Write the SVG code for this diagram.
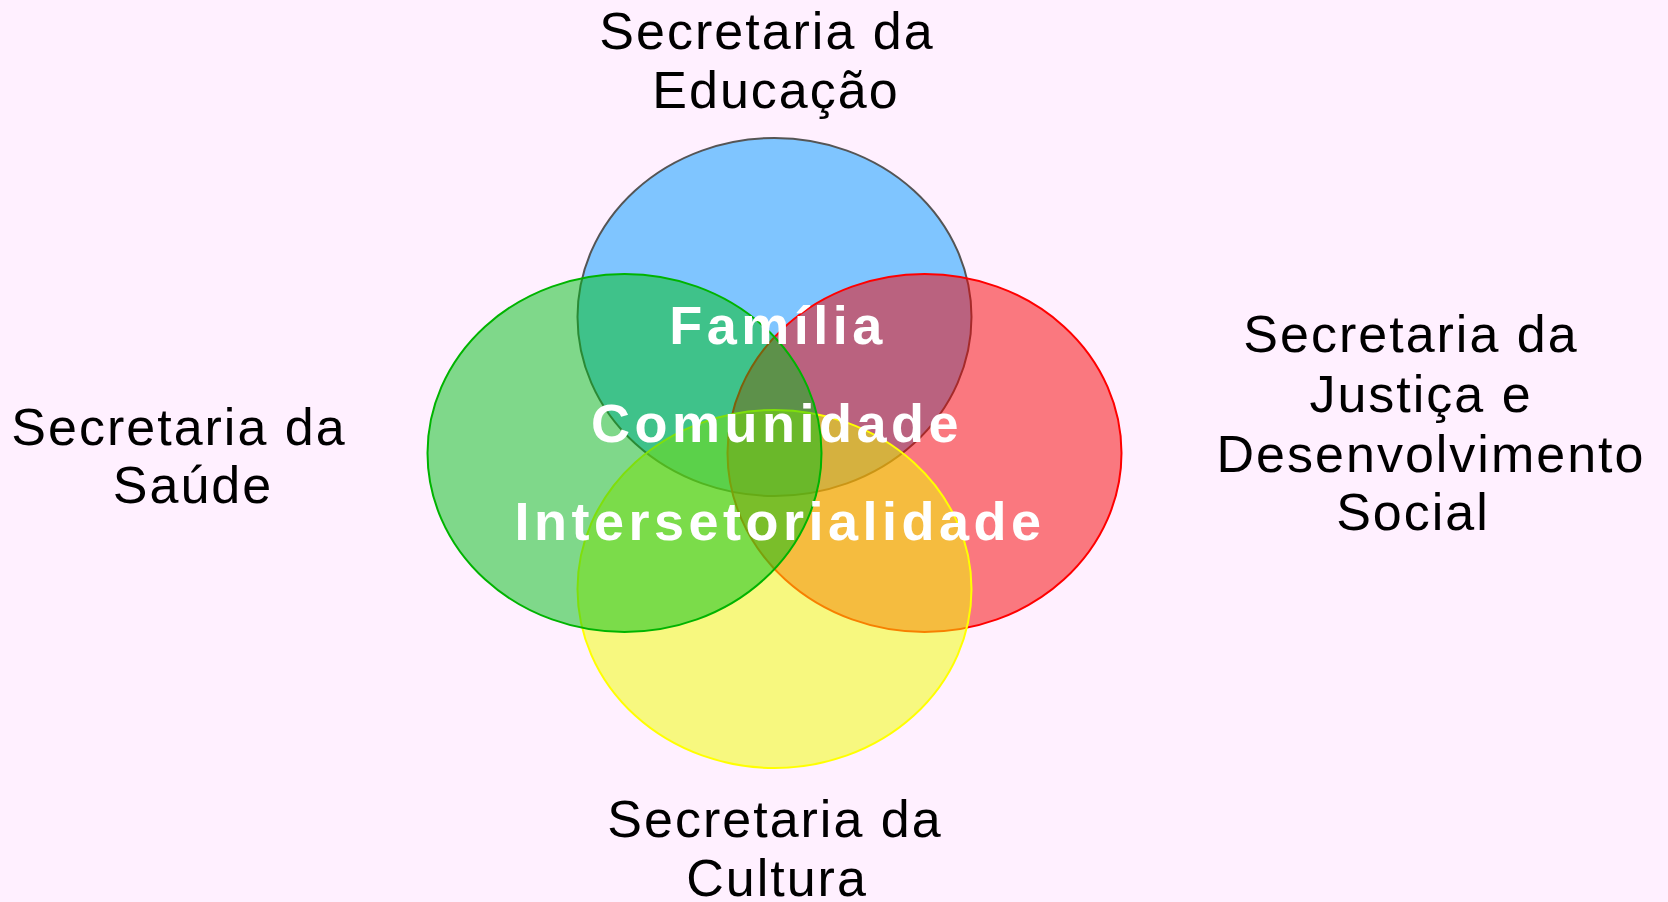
<svg xmlns="http://www.w3.org/2000/svg" width="1668" height="902" viewBox="0 0 1668 902">
  <style>
    .circle { fill-opacity: 0.5; stroke-width: 2; }
    .label { font-family: "Liberation Sans", Arial, sans-serif; font-size: 52px; letter-spacing: 2px; fill: #000000; text-anchor: middle; }
    .core { font-family: "Liberation Sans", Arial, sans-serif; font-size: 54px; font-weight: bold; letter-spacing: 4.5px; fill: #ffffff; text-anchor: middle; }
  </style>
  <rect x="0" y="0" width="1668" height="902" fill="#fff0ff"/>
  <g id="educacao">
    <ellipse class="circle" cx="774.5" cy="317" rx="197" ry="179" fill="#0099ff" stroke="#555555"/>
    <text class="label" x="767" y="49">Secretaria da</text>
    <text class="label" x="776" y="108">Educação</text>
  </g>
  <g id="justica">
    <ellipse class="circle" cx="924.5" cy="453" rx="197" ry="179" fill="#f60000" stroke="#ff0000"/>
    <text class="label" x="1411" y="352">Secretaria da</text>
    <text class="label" x="1421" y="412">Justiça e</text>
    <text class="label" x="1431" y="472">Desenvolvimento</text>
    <text class="label" x="1413" y="530">Social</text>
  </g>
  <g id="cultura">
    <ellipse class="circle" cx="774.5" cy="589" rx="197" ry="179" fill="#f0ff00" stroke="#ffff00"/>
    <text class="label" x="775" y="837">Secretaria da</text>
    <text class="label" x="777" y="896">Cultura</text>
  </g>
  <g id="saude">
    <ellipse class="circle" cx="624.5" cy="453" rx="197" ry="179" fill="#00c015" stroke="#00b400"/>
    <text class="label" x="179" y="445">Secretaria da</text>
    <text class="label" x="193" y="503">Saúde</text>
  </g>
  <g id="centro">
    <text class="core" x="778" y="344">Família</text>
    <text class="core" x="777" y="442">Comunidade</text>
    <text class="core" x="780" y="540">Intersetorialidade</text>
  </g>
</svg>
